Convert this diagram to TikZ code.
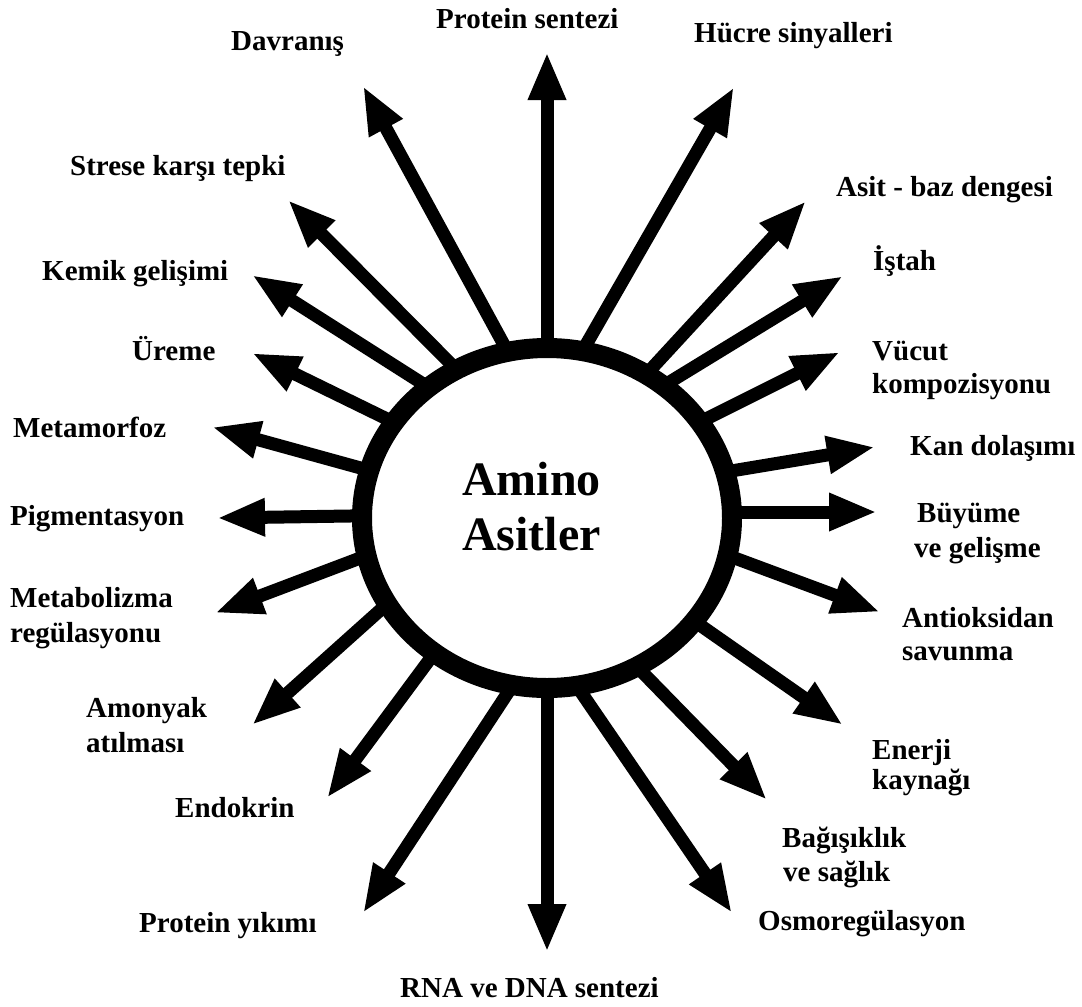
\documentclass[tikz,border=0pt]{standalone}
\usepackage{fontspec}
\setmainfont{Liberation Serif}
\usetikzlibrary{arrows.meta,calc,shapes.geometric}
\begin{document}
\begin{tikzpicture}[x=1pt,y=-1pt,
  lbl/.style={anchor=base west, inner sep=0pt, font=\fontsize{29}{33}\selectfont\bfseries},
  title/.style={anchor=base west, inner sep=0pt, font=\fontsize{48}{55}\selectfont\bfseries},
  ray/.style={line width=13pt, -{Triangle[length=48pt,width=35pt]}},
  ring/.style={ellipse, draw, line width=20pt, inner sep=0pt, minimum width=370pt, minimum height=340pt}
]
\fill[white] (0,0) rectangle (1082,1007);
\useasboundingbox (0,0) rectangle (1082,1007);

% start points (on the ring) and tips
\coordinate (s1) at (547,340);  \coordinate (t1) at (547,52);
\coordinate (s2) at (587,343);  \coordinate (t2) at (734,87);
\coordinate (s3) at (503,343);  \coordinate (t3) at (363,86);
\coordinate (s4) at (447,360);  \coordinate (t4) at (288,200);
\coordinate (s5) at (417,380);  \coordinate (t5) at (252,275);
\coordinate (s6) at (383,417);  \coordinate (t6) at (252,353);
\coordinate (s7) at (357,467);  \coordinate (t7) at (212,427);
\coordinate (s8) at (350,516);  \coordinate (t8) at (217,518);
\coordinate (s9) at (355,560);  \coordinate (t9) at (215,613);
\coordinate (s10) at (377,613); \coordinate (t10) at (252,725);
\coordinate (s11) at (427,663); \coordinate (t11) at (327,798);
\coordinate (s12) at (505,697); \coordinate (t12) at (363,913);
\coordinate (s13) at (547,697); \coordinate (t13) at (547,952);
\coordinate (s14) at (583,695); \coordinate (t14) at (732,913);
\coordinate (s15) at (647,677); \coordinate (t15) at (767,800);
\coordinate (s16) at (707,630); \coordinate (t16) at (843,725);
\coordinate (s17) at (740,560); \coordinate (t17) at (880,612);
\coordinate (s18) at (740,512); \coordinate (t18) at (877,512);
\coordinate (s19) at (737,470); \coordinate (t19) at (875,447);
\coordinate (s20) at (710,417); \coordinate (t20) at (840,352);
\coordinate (s21) at (673,380); \coordinate (t21) at (843,276);
\coordinate (s22) at (653,367); \coordinate (t22) at (806,201);

\foreach \i in {1,...,22}{
  \draw[ray] ($(s\i)!-12pt!(t\i)$) -- (t\i);
}

\node[ring] (c) at (547,518) {};
\node[title] (am) at (462,495) {Amino};
\node[title] (as) at (462,550) {Asitler};

\node[lbl] (l1) at (436,28) {Protein sentezi};
\node[lbl] (l2) at (694,42) {Hücre sinyalleri};
\node[lbl] (l3) at (231,50) {Davranış};
\node[lbl] (l4) at (70,175) {Strese karşı tepki};
\node[lbl] (l5) at (42,280) {Kemik gelişimi};
\node[lbl] (l6) at (132,360) {Üreme};
\node[lbl] (l7) at (13,437) {Metamorfoz};
\node[lbl] (l8) at (10,525) {Pigmentasyon};
\node[lbl] (l9a) at (10,607) {Metabolizma};
\node[lbl] (l9b) at (10,642) {regülasyonu};
\node[lbl] (l10a) at (86,717) {Amonyak};
\node[lbl] (l10b) at (86,752) {atılması};
\node[lbl] (l11) at (175,817) {Endokrin};
\node[lbl] (l12) at (139,932) {Protein yıkımı};
\node[lbl] (l13) at (400,997) {RNA ve DNA sentezi};
\node[lbl] (l14) at (758,930) {Osmoregülasyon};
\node[lbl] (l15a) at (782,847) {Bağışıklık};
\node[lbl] (l15b) at (783,881) {ve sağlık};
\node[lbl] (l16a) at (872,759) {Enerji};
\node[lbl] (l16b) at (872,789) {kaynağı};
\node[lbl] (l17a) at (902,627) {Antioksidan};
\node[lbl] (l17b) at (902,660) {savunma};
\node[lbl] (l18a) at (917,522) {Büyüme};
\node[lbl] (l18b) at (914,557) {ve gelişme};
\node[lbl] (l19) at (910,455) {Kan dolaşımı};
\node[lbl] (l20a) at (872,360) {Vücut};
\node[lbl] (l20b) at (872,393) {kompozisyonu};
\node[lbl] (l21) at (873,270) {İştah};
\node[lbl] (l22) at (836,196) {Asit - baz dengesi};
\end{tikzpicture}
\end{document}
